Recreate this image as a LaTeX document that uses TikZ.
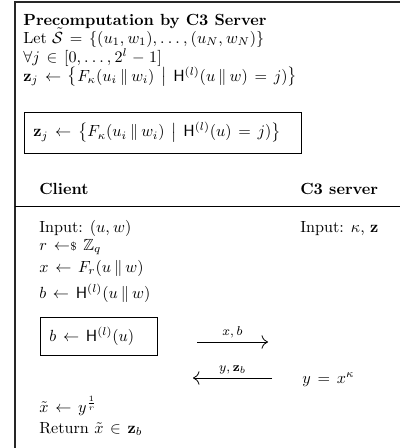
\documentclass[tikz,border=0pt]{standalone}
\usepackage{amsmath,amssymb}
\usepackage{tikz}
\usetikzlibrary{arrows.meta,positioning}
% slightly wider math spacing
\thinmuskip=3.5mu
\medmuskip=5mu plus 2mu minus 4mu
\thickmuskip=7.5mu plus 5mu
\tikzset{
  line/.style={anchor=base west, inner sep=0pt},
  head/.style={anchor=base west, inner sep=0pt, font=\bfseries},
  frame/.style={draw=black!85, line width=0.8pt},
  rule/.style={draw=black, line width=0.6pt},
  boxed/.style={draw, line width=0.5pt, anchor=west, inner xsep=5.6pt, align=left},
  msg/.style={draw, line width=0.5pt, -{To[length=1.4mm]}},
  mlbl/.style={font=\footnotesize, midway, above, inner sep=2.5pt}
}

\begin{document}
\begin{tikzpicture}[x=0.62pt, y=-0.62pt]
    \useasboundingbox (0,0) rectangle (400,448);
    % outer frame
    \coordinate (fbot) at (15,448);
    \coordinate (ftop) at (15,2);
    \coordinate (fright) at (400,2);
    \draw[frame] (fbot) -- (ftop) -- (fright);
    % precomputation
    \node[head] (pre) at (23,25) {Precomputation by C3 Server};
    \node[line] (let) at (23,43) {Let $\tilde{\mathcal{S}} = \{(u_1, w_1), \ldots, (u_N, w_N)\}$};
    \node[line] (all) at (23,62) {$\forall j \in [0, \ldots, 2^l - 1]$};
    \node[line] (zj) at (23,81) {$\mathbf{z}_j \leftarrow \big\{F_\kappa(u_i \,\|\, w_i) \;\big|\; \mathsf{H}^{(l)}(u \,\|\, w) = j)\big\}$};
    \node[boxed, text width=160.8pt, minimum height=25.4pt] (zbox) at (24,132.5) {$\mathbf{z}_j \leftarrow \big\{F_\kappa(u_i \,\|\, w_i) \;\big|\; \mathsf{H}^{(l)}(u) = j)\big\}$};
    % protocol
    \node[head] (cl) at (39,194) {Client};
    \node[head] (srv) at (300,194) {C3 server};
    \coordinate (rl) at (15,206);
    \coordinate (rr) at (400,206);
    \draw[rule] (rl) -- (rr);
    \node[line] (cin) at (39,232) {Input: $(u, w)$};
    \node[line] (sin) at (300,232) {Input: $\kappa$, $\mathbf{z}$};
    \node[line] (r) at (39,250) {$r \mathrel{\leftarrow\!\!{\scriptstyle\$}} \mathbb{Z}_q$};
    \node[line] (x) at (39,272) {$x \leftarrow F_r(u \,\|\, w)$};
    \node[line] (b) at (39,298) {$b \leftarrow \mathsf{H}^{(l)}(u \,\|\, w)$};
    \node[boxed, text width=61.3pt, minimum height=23.5pt] (bbox) at (40,336) {$b \leftarrow \mathsf{H}^{(l)}(u)$};
    \coordinate (m1s) at (197,342);
    \coordinate (m1e) at (268,342);
    \draw[msg] (m1s) -- node[mlbl]{$x, b$} (m1e);
    \coordinate (m2s) at (272,378);
    \coordinate (m2e) at (193,378);
    \draw[msg] (m2s) -- node[mlbl]{$y, \mathbf{z}_b$} (m2e);
    \node[line] (yk) at (302,383) {$y = x^\kappa$};
    \node[line] (xt) at (39,412) {$\tilde{x} \leftarrow y^{\frac{1}{r}}$};
    \node[line] (ret) at (39,433) {Return $\tilde{x} \in \mathbf{z}_b$};
\end{tikzpicture}
\end{document}
